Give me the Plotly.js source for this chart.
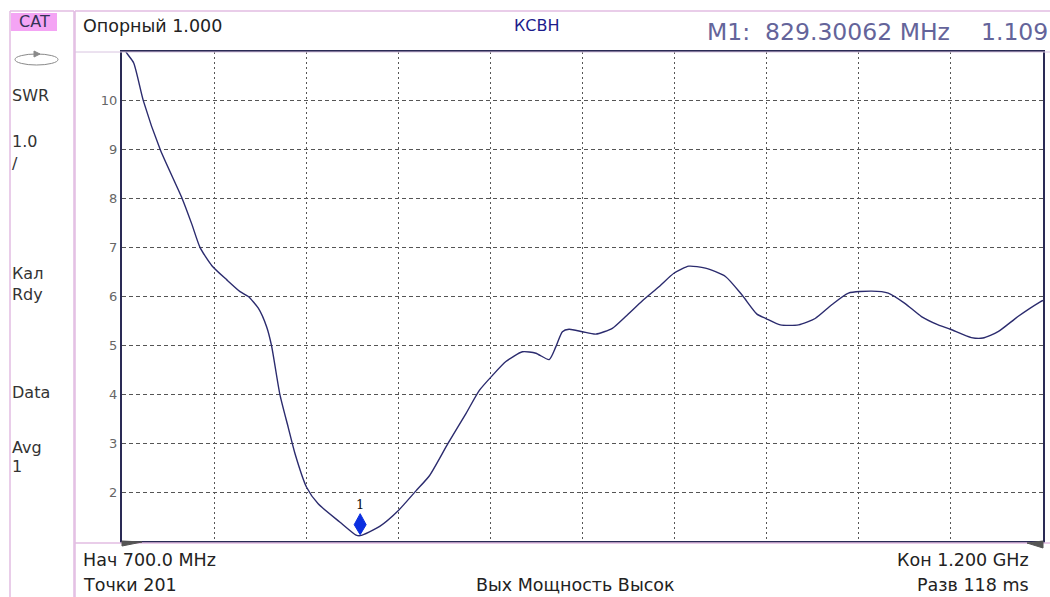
<!DOCTYPE html>
<html>
<head>
<meta charset="utf-8">
<script src="https://cdn.plot.ly/plotly-3.0.1.min.js"></script>
<style>
  html, body { margin: 0; padding: 0; background: #ffffff; }
  #chart { width: 1050px; height: 597px; }
</style>
</head>
<body>
<div id="chart"></div>
<script>
// ---- data (frequency in MHz, SWR) ----
const freqMHz = [700, 702.2, 706.3, 711.6, 720.8, 732.7, 737.9, 742.4, 748.8, 756.9, 764.1, 768.6,
  774.0, 778.5, 781.2, 785.7, 790.2, 793.9, 800.2, 806.5, 818.2, 827.1, 829.3, 839.9, 850.2,
  859.7, 867.0, 876.9, 886.8, 894.0, 901.2, 908.4, 917.4, 924.7, 931.9, 935.5, 939.1, 942.7,
  949.9, 957.2, 966.2, 973.4, 982.4, 991.5, 999.8, 1007.7, 1016.7, 1027.6, 1036.6, 1044.7,
  1049.6, 1057.4, 1067.3, 1076.3, 1085.3, 1094.4, 1107.0, 1116.0, 1125.0, 1134.0, 1143.1,
  1149.7, 1161.1, 1167.4, 1175.6, 1186.4, 1198.5, 1200];
const swr = [11.25, 11.0, 10.78, 10.0, 9.0, 8.0, 7.48, 7.0, 6.63, 6.34, 6.10, 6.0,
  5.76, 5.38, 4.99, 4.0, 3.33, 2.79, 2.10, 1.76, 1.39, 1.12, 1.109, 1.30, 1.63,
  2.03, 2.34, 2.99, 3.61, 4.08, 4.39, 4.67, 4.87, 4.84, 4.71, 4.97, 5.28, 5.33,
  5.28, 5.23, 5.35, 5.59, 5.91, 6.20, 6.48, 6.62, 6.58, 6.41, 6.03, 5.64,
  5.55, 5.42, 5.42, 5.55, 5.83, 6.07, 6.11, 6.07, 5.86, 5.59, 5.42,
  5.33, 5.16, 5.15, 5.28, 5.59, 5.89, 5.92];
const markerFreq = [829.30062];
const markerVal = [1.109];
const markerNames = ['1'];
const yTickVals = [2, 3, 4, 5, 6, 7, 8, 9, 10];
const yTickText = ['2', '3', '4', '5', '6', '7', '8', '9', '10'];
const xRange = [700, 1200];
const yRange = [1, 11];
const sideLabels = ['CAT', 'SWR', '1.0', '/', 'Кал', 'Rdy', 'Data', 'Avg', '1'];
const headerLeft = 'Опорный 1.000';
const headerMid = 'КСВН';
const headerMarker = 'M1:  829.30062 MHz';
const headerMarkerVal = '1.109';
const footStart = 'Нач 700.0 MHz';
const footStop = 'Кон 1.200 GHz';
const footPoints = 'Точки 201';
const footPower = 'Вых Мощность Высок';
const footSweep = 'Разв 118 ms';

// ---- geometry helpers (page pixels -> paper coordinates) ----
const L = 122, R = 1043, T = 52, B = 541;
const px = v => (v - L) / (R - L);
const py = v => (B - v) / (B - T);
const FONT = 'DejaVu Sans, Verdana, sans-serif';
const pink = '#e2bde2';

function txt(text, x, y, opts) {
  opts = opts || {};
  return {
    text: text, xref: 'paper', yref: 'paper', x: px(x), y: py(y),
    xanchor: opts.xanchor || 'left', yanchor: 'middle', showarrow: false,
    font: { family: opts.family || FONT, size: opts.size || 16, color: opts.color || '#333333' }
  };
}
function line(x0, y0, x1, y1, color, w) {
  return { type: 'line', xref: 'paper', yref: 'paper', x0: px(x0), y0: py(y0), x1: px(x1), y1: py(y1),
    line: { color: color || pink, width: w || 1.5 }, layer: 'above' };
}

const sideY = [21, 95, 141, 163, 273, 294, 392, 447, 466];
const annotations = [];
sideLabels.forEach((s, i) => annotations.push(i === 0
  ? txt(s, 34, sideY[i], { size: 16, color: '#333355', xanchor: 'center' })
  : txt(s, 10, sideY[i], { size: 16, color: '#333333' })));
annotations.push(txt(headerLeft, 81, 26, { size: 17.5, color: '#222222' }));
annotations.push(txt(headerMid, 512, 25, { size: 16, color: '#1c1c8c' }));
annotations.push(txt(headerMarker, 705, 32, { size: 23.5, color: '#64649a' }));
annotations.push(txt(headerMarkerVal, 1050, 32, { size: 23.5, color: '#64649a', xanchor: 'right' }));
annotations.push(txt(footStart, 81, 560, { size: 17.5, color: '#222222' }));
annotations.push(txt(footPoints, 81, 585, { size: 17.5, color: '#222222' }));
annotations.push(txt(footPower, 575, 585, { size: 17.5, color: '#222222', xanchor: 'center' }));
annotations.push(txt(footStop, 1031, 560, { size: 17.5, color: '#222222', xanchor: 'right' }));
annotations.push(txt(footSweep, 1031, 585, { size: 17.5, color: '#222222', xanchor: 'right' }));
markerNames.forEach((n, i) => annotations.push({
  text: n, xref: 'x', yref: 'y', x: markerFreq[i], y: markerVal[i], yshift: 31,
  showarrow: false, font: { family: 'DejaVu Serif, serif', size: 13, color: '#111111' }
}));

const shapes = [
  // CAT highlight
  { type: 'rect', xref: 'paper', yref: 'paper', x0: px(11), x1: px(57), y0: py(13), y1: py(31),
    fillcolor: '#f4a4f4', line: { width: 0 }, layer: 'below' },
  // sidebar frame
  line(10, 11, 10, 597), line(74, 11, 74, 597), line(10, 11, 74, 11),
  // header box
  line(75, 11, 1050, 11), line(75, 11, 75, 597), line(75, 52, 1050, 52, '#d8c4e0', 1),
  // footer separator
  line(75, 543, 1050, 543),
  // sweep icon
  { type: 'circle', xref: 'paper', yref: 'paper', x0: px(15), x1: px(58), y0: py(54), y1: py(65),
    line: { color: '#8a8a8a', width: 1 } },
  { type: 'path', xref: 'paper', yref: 'paper',
    path: `M${px(34)},${py(51)} L${px(40)},${py(54)} L${px(34)},${py(57)} Z`,
    fillcolor: '#8a8a8a', line: { color: '#8a8a8a', width: 1 } },
  // start / stop wedges
  { type: 'path', xref: 'paper', yref: 'paper',
    path: `M${px(122)},${py(541)} L${px(142)},${py(542)} L${px(122)},${py(546)} Z`,
    fillcolor: '#555555', line: { color: '#555555', width: 1 }, layer: 'above' },
  { type: 'path', xref: 'paper', yref: 'paper',
    path: `M${px(1043)},${py(541)} L${px(1027)},${py(543)} L${px(1043)},${py(548)} Z`,
    fillcolor: '#555555', line: { color: '#555555', width: 1 }, layer: 'above' }
];
markerFreq.forEach((f, i) => shapes.push({
  type: 'path', xref: 'x', yref: 'y', xsizemode: 'pixel', ysizemode: 'pixel',
  xanchor: f, yanchor: markerVal[i], path: 'M0,1 L6,11 L0,22 L-6,11 Z',
  fillcolor: '#0b2fe0', line: { color: '#0b2fe0', width: 1 }, layer: 'above'
}));

const traces = [{
  type: 'scatter', mode: 'lines', x: freqMHz, y: swr,
  line: { color: '#2b2b6e', width: 1.4, shape: 'spline', smoothing: 0.6 },
  hoverinfo: 'skip', showlegend: false
}];

const layout = {
  width: 1050, height: 597,
  margin: { l: L, r: 1050 - R, t: T, b: 597 - B, pad: 0 },
  paper_bgcolor: '#ffffff', plot_bgcolor: '#ffffff',
  showlegend: false,
  xaxis: {
    range: xRange, tick0: 700, dtick: 50, showticklabels: false, ticks: '',
    showgrid: true, gridcolor: '#555555', gridwidth: 1, griddash: '2px,3px',
    zeroline: false, showline: true, linecolor: '#2a2a55', linewidth: 2, mirror: true, fixedrange: true
  },
  yaxis: {
    range: yRange, tickvals: yTickVals, ticktext: yTickText, ticks: '',
    tickfont: { family: FONT, size: 13, color: '#666666' },
    showgrid: true, gridcolor: '#555555', gridwidth: 1, griddash: '4px,3px',
    zeroline: false, showline: true, linecolor: '#2a2a55', linewidth: 2, mirror: true, fixedrange: true
  },
  annotations: annotations,
  shapes: shapes
};

Plotly.newPlot('chart', traces, layout, { staticPlot: true, displayModeBar: false });
</script>
</body>
</html>
